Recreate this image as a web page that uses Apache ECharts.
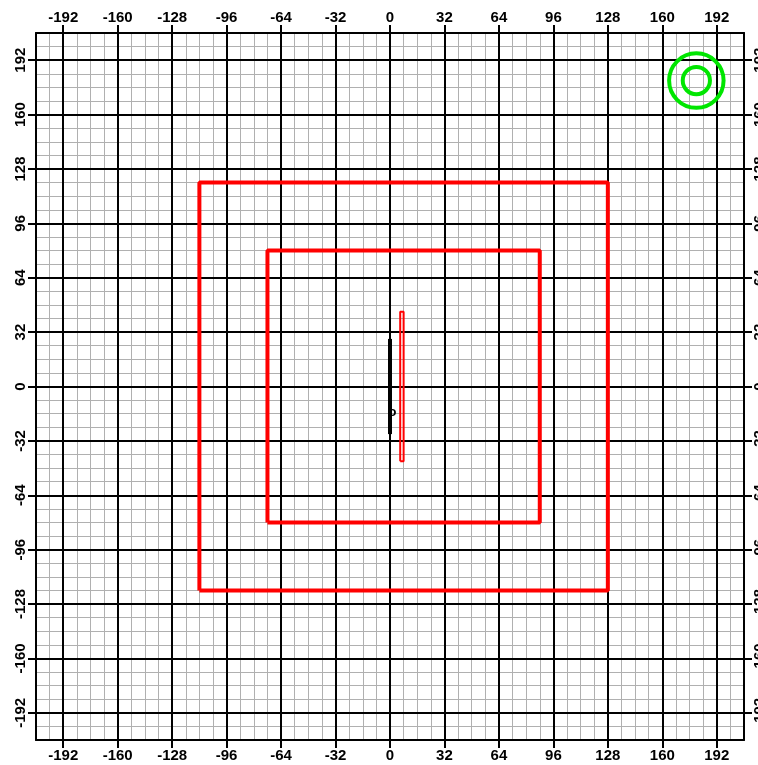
<!DOCTYPE html>
<html>
<head>
<meta charset="utf-8">
<script src="https://cdn.jsdelivr.net/npm/echarts@6/dist/echarts.min.js"></script>
<style>
html, body { margin: 0; padding: 0; background: #fff; }
#chart { width: 758px; height: 765px; }
</style>
</head>
<body>
<div id="chart"></div>
<script>
// 坐标范围与刻度
const axisMin = -208;
const axisMax = 208;
const minorStep = 8;
const majorTicks = [-192, -160, -128, -96, -64, -32, 0, 32, 64, 96, 128, 160, 192];

// 红色矩形 [x1, y1, x2, y2]
const redRects = [[-112, -120, 128, 120], [-72, -80, 88, 80]];
const thinRect = [6, -44, 8, 44];
// 黑色竖线
const blackLine = [[0, -28], [0, 28]];
// 绿色圆 [cx, cy, r]
const greenCircles = [[180, 180, 16], [180, 180, 8]];
// 小字
const marks = [[1.5, -15, 'o']];

function rectPath(r) {
    return [[r[0], r[1]], [r[2], r[1]], [r[2], r[3]], [r[0], r[3]], [r[0], r[1]]];
}

const labelStyle = {
    customValues: majorTicks,
    color: '#000',
    fontFamily: 'Liberation Sans',
    fontWeight: 'bold',
    fontSize: 15,
    margin: 8
};
const tickStyle = { show: true, customValues: majorTicks, length: 8, lineStyle: { color: '#000', width: 2 } };
const lineStyle = { show: true, onZero: false, lineStyle: { color: '#000', width: 2 } };

function minorAxis() {
    return {
        gridIndex: 0, type: 'value', min: axisMin, max: axisMax, interval: minorStep,
        axisLine: { show: false }, axisTick: { show: false }, axisLabel: { show: false },
        splitLine: { show: true, lineStyle: { color: '#b0b0b0', width: 1 } }
    };
}
// 主网格线跟随 customValues 刻度
function majorAxis(position, rotate, grid) {
    return {
        gridIndex: 1, type: 'value', position: position, min: axisMin, max: axisMax, interval: minorStep, z: 1,
        axisLine: lineStyle, axisTick: tickStyle,
        axisLabel: Object.assign({}, labelStyle, { rotate: rotate }),
        splitLine: grid ? { show: true, lineStyle: { color: '#000', width: 2 } } : { show: false }
    };
}

const gridBox = { left: 36, right: 14, top: 33, bottom: 25, containLabel: false, outerBoundsMode: 'none' };

const series = [];
redRects.forEach(r => {
    series.push({
        type: 'line', xAxisIndex: 1, yAxisIndex: 1, data: rectPath(r),
        showSymbol: false, symbol: 'none', z: 3,
        lineStyle: { color: '#ff0000', width: 4 }
    });
});
series.push({
    type: 'line', xAxisIndex: 1, yAxisIndex: 1, data: rectPath(thinRect),
    showSymbol: false, symbol: 'none', z: 3,
    lineStyle: { color: '#ff0000', width: 2 }
});
series.push({
    type: 'line', xAxisIndex: 1, yAxisIndex: 1, data: blackLine,
    showSymbol: false, symbol: 'none', z: 4,
    lineStyle: { color: '#000', width: 4, cap: 'butt' }
});
series.push({
    type: 'custom', xAxisIndex: 1, yAxisIndex: 1, coordinateSystem: 'cartesian2d', z: 3,
    data: greenCircles,
    renderItem: (params, api) => {
        const c = api.coord([api.value(0), api.value(1)]);
        const r = api.size([api.value(2), 0])[0];
        return {
            type: 'circle',
            shape: { cx: c[0], cy: c[1], r: r },
            style: { fill: 'none', stroke: '#00e600', lineWidth: 4 }
        };
    }
});
series.push({
    type: 'custom', xAxisIndex: 1, yAxisIndex: 1, coordinateSystem: 'cartesian2d', z: 5,
    data: marks,
    renderItem: (params, api) => {
        const c = api.coord([api.value(0), api.value(1)]);
        return {
            type: 'text',
            style: {
                text: marks[params.dataIndex][2], x: c[0], y: c[1],
                align: 'center', verticalAlign: 'middle',
                font: 'bold 13px Liberation Sans', fill: '#000'
            }
        };
    }
});

const chart = echarts.init(document.getElementById('chart'));
chart.setOption({
    animation: false,
    backgroundColor: '#fff',
    grid: [Object.assign({}, gridBox), Object.assign({}, gridBox)],
    xAxis: [minorAxis(), majorAxis('bottom', 0, true), majorAxis('top', 0, false)],
    yAxis: [minorAxis(), majorAxis('left', 90, true), majorAxis('right', 90, false)],
    series: series
});
</script>
</body>
</html>
